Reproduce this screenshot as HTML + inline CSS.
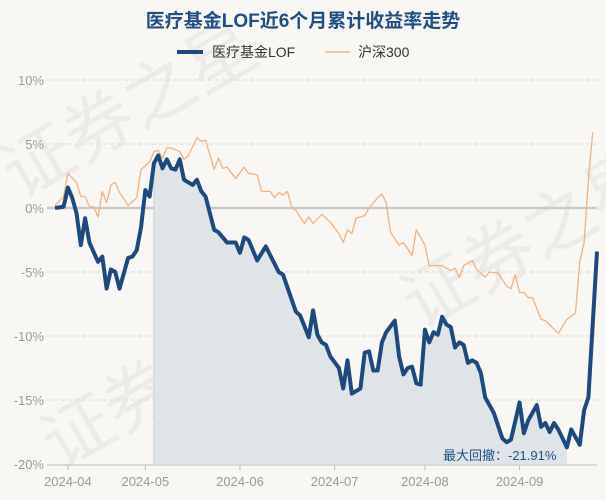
<!DOCTYPE html>
<html><head><meta charset="utf-8"><style>
html,body{margin:0;padding:0;background:#f9f7f3;}
svg{display:block;font-family:"Liberation Sans","Noto Sans CJK SC",sans-serif;}
</style></head><body>
<svg id="chart" width="606" height="500" viewBox="0 0 606 500">
<rect width="606" height="500" fill="#f9f7f3"/>
<g opacity="0.05" font-size="70" fill="#000">
<text x="20" y="200" transform="rotate(-30 20 200)">证券之星</text>
<text x="60" y="470" transform="rotate(-30 60 470)">证券之星</text>
<text x="420" y="330" transform="rotate(-30 420 330)">证券之星</text>
</g>
<text x="303" y="27" text-anchor="middle" font-size="19" font-weight="bold" fill="#1f4e85">医疗基金LOF近6个月累计收益率走势</text>
<g>
<g><line x1="177" y1="52" x2="203" y2="52" stroke="#1c4a7e" stroke-width="4"/><text x="212" y="57" font-size="14" fill="#333">医疗基金LOF</text></g>
<g><line x1="325" y1="52" x2="350" y2="52" stroke="#f0b27f" stroke-width="1.5"/><text x="358" y="57" font-size="14" fill="#333">沪深300</text></g>
</g>
<g id="grid"></g>
<g id="yaxis"></g>
<g id="xaxis"></g>
<g id="series"></g>
<text x="443" y="460" font-size="13" fill="#1f4e85">最大回撤：-21.91%</text>
</svg>
<script>
const yTicks=[10,5,0,-5,-10,-15,-20];
const monthLabels=['2024-04','2024-05','2024-06','2024-07','2024-08','2024-09'];
const monthDays=[3,21,43,65,86,108];
const fundDays=[0,2,3,4,5,6,7,8,10,11,12,13,14,15,17,18,19,20,21,22,23,24,25,26,27,28,29,30,32,33,34,35,37,38,40,42,43,44,45,47,49,52,53,56,57,59,60,61,62,63,64,66,67,68,69,71,72,73,74,75,76,77,79,80,81,82,83,84,85,86,87,88,89,90,91,92,93,94,95,96,97,98,99,100,102,103,104,105,106,108,109,110,112,113,114,115,116,117,119,120,122,123,124,126];
const fundVals=[0,0.1,1.6,0.8,-0.4,-2.9,-0.8,-2.7,-4.2,-3.8,-6.3,-4.8,-5.0,-6.3,-3.9,-3.8,-3.3,-1.5,1.4,0.9,3.5,4.1,3.1,3.8,3.1,3.0,3.8,2.2,1.8,2.2,1.3,0.9,-1.7,-1.9,-2.7,-2.7,-3.5,-2.3,-2.5,-4.1,-3.0,-5.0,-5.2,-8.1,-8.4,-10.1,-8.0,-9.9,-10.5,-10.7,-11.6,-12.5,-14.1,-11.9,-14.5,-14.1,-11.3,-11.2,-12.7,-12.7,-10.5,-9.7,-8.8,-11.6,-13.0,-12.5,-12.4,-13.7,-13.8,-9.5,-10.5,-9.7,-9.9,-8.5,-9.1,-9.3,-10.9,-10.5,-10.7,-12.1,-11.9,-12.1,-12.9,-14.8,-16.0,-17.0,-18.0,-18.3,-18.1,-15.2,-17.6,-16.6,-15.4,-17.1,-16.8,-17.5,-16.8,-17.3,-18.7,-17.3,-18.5,-15.8,-14.8,-3.4];
const idxDays=[0,2,3,5,6,7,8,9,10,11,12,13,14,15,17,19,20,22,23,24,25,26,27,29,30,31,33,34,35,37,38,39,40,42,44,45,47,48,50,51,52,53,54,55,56,58,59,60,62,64,66,67,68,69,70,72,73,75,76,77,78,80,81,83,84,86,87,90,92,93,94,95,97,98,100,101,103,105,106,107,108,109,110,111,113,114,117,119,121,122,123,124,125];
const idxVals=[0.2,0.9,2.7,2.0,0.9,0.9,0.1,0.1,-0.7,1.3,0.4,1.8,2.0,1.2,0.2,0.8,3.0,3.6,4.4,4.5,3.9,4.7,4.7,4.4,3.8,4.1,5.5,5.2,5.3,3.0,3.9,3.1,3.2,2.3,3.2,2.7,2.6,1.3,1.3,0.8,1.2,1.0,1.3,0.1,-0.2,-1.2,-0.7,-1.2,-0.5,-1.1,-2.0,-2.7,-1.7,-2.0,-0.8,-0.6,0,0.8,1.1,0.4,-1.9,-2.9,-2.7,-3.7,-1.7,-2.9,-4.5,-4.5,-4.9,-4.7,-5.4,-4.5,-4.1,-4.8,-5.4,-5.0,-5.1,-6.1,-6.3,-5.2,-6.6,-6.6,-7.0,-7.0,-8.7,-8.8,-9.8,-8.7,-8.2,-4.2,-2.7,2.2,5.9];
const ddStart=23, ddEnd=119;

const X0=55,X1=597,Y0=80,Y1=464,DMAX=126,VMAX=10,VMIN=-20;
const xs=d=>X0+(X1-X0)*d/DMAX;
const ys=v=>Y0+(Y1-Y0)*(VMAX-v)/(VMAX-VMIN);
const NS='http://www.w3.org/2000/svg';
function mk(tag,attrs,parent){const e=document.createElementNS(NS,tag);for(const k in attrs)e.setAttribute(k,attrs[k]);parent.appendChild(e);return e;}
const grid=document.getElementById('grid'),ya=document.getElementById('yaxis'),xa=document.getElementById('xaxis'),ser=document.getElementById('series');
yTicks.forEach(t=>{
  const y=ys(t);
  if(t===0){const l=mk('line',{x1:47,x2:597,y1:y,y2:y,stroke:'#c9c9c9','stroke-width':2.5},grid);
    
    }
  else if(t!==-20){const l=mk('line',{x1:47,x2:597,y1:y,y2:y,stroke:'#d8d8d8','stroke-dasharray':'4 3'},grid);
    
    }
  const tx=mk('text',{x:44,y:y+5,'text-anchor':'end','font-size':13,fill:'#9a9a9a'},ya);
  tx.textContent=t+'%';
  
  
});
// drawdown fill
let fp=[];
fundDays.forEach((d,i)=>{if(d>=ddStart&&d<=ddEnd)fp.push(xs(d)+','+ys(fundVals[i]));});
fp.push(xs(ddEnd)+','+Y1);fp.push(xs(ddStart)+','+Y1);
const fill=mk('polygon',{points:fp.join(' '),fill:'#dfe4e8'},ser);


const vl=mk('line',{x1:xs(ddStart),x2:xs(ddStart),y1:ys(fundVals[fundDays.indexOf(ddStart)]),y2:Y1,stroke:'#c8cfd6','stroke-width':1},ser);


// axis line
const ax=mk('line',{x1:47,x2:597,y1:Y1+1,y2:Y1+1,stroke:'#bbb'},xa);


monthLabels.forEach((m,i)=>{
  const x=xs(monthDays[i]);
  const tk=mk('line',{x1:x,x2:x,y1:Y1+1,y2:Y1+6,stroke:'#bbb'},xa);
  
  
  const t=mk('text',{x:x,y:486,'text-anchor':'middle','font-size':13,fill:'#9a9a9a'},xa);
  t.textContent=m;
  
  
});
const ip=mk('polyline',{points:idxDays.map((d,i)=>xs(d)+','+ys(idxVals[i])).join(' '),fill:'none',stroke:'#f0b27f','stroke-width':1.3,'stroke-linejoin':'round'},ser);


const fl=mk('polyline',{points:fundDays.map((d,i)=>xs(d)+','+ys(fundVals[i])).join(' '),fill:'none',stroke:'#1c4a7e','stroke-width':4,'stroke-linejoin':'round'},ser);


</script>
</body></html>
